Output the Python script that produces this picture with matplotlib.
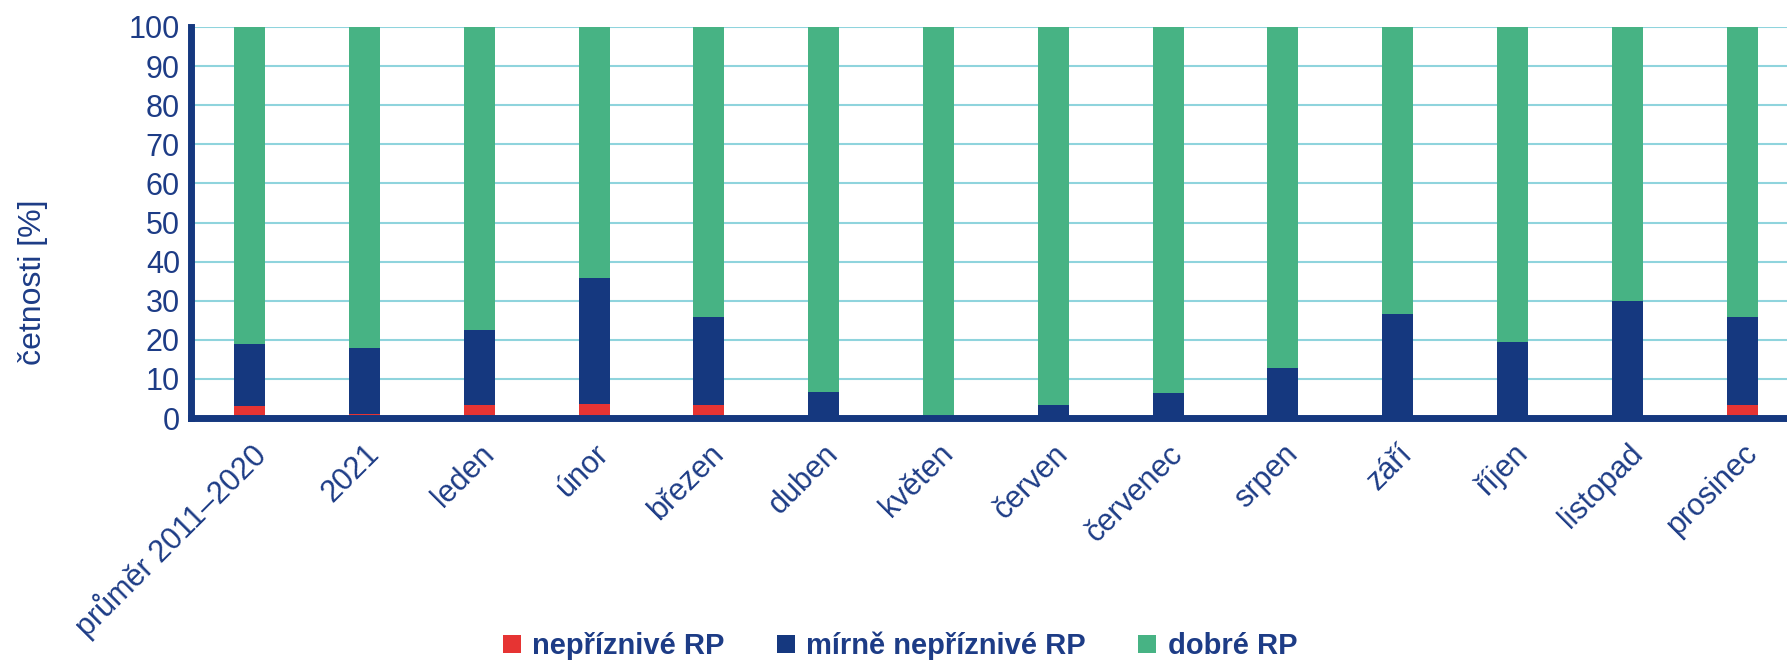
import matplotlib
matplotlib.use("Agg")
import matplotlib.pyplot as plt
import numpy as np

plt.rcParams['font.family'] = ['Liberation Sans', 'DejaVu Sans']

categories = ["průměr 2011–2020", "2021", "leden", "únor", "březen", "duben",
              "květen", "červen", "červenec", "srpen", "září", "říjen",
              "listopad", "prosinec"]
neprizni = [3.0, 1.1, 3.2, 3.6, 3.2, 0, 0, 0, 0, 0, 0, 0, 0, 3.2]
mirne = [16.0, 16.7, 19.4, 32.1, 22.6, 6.7, 0, 3.3, 6.5, 12.9, 26.7, 19.4, 30.0, 22.6]
dobre = [100 - a - b for a, b in zip(neprizni, mirne)]

c_red = "#e63433"
c_blue = "#15387f"
c_green = "#47b384"
c_text = "#1d3c86"
c_grid = "#8fd4dd"

fig = plt.figure(figsize=(17.87, 6.65), dpi=100)
ax = fig.add_axes([191/1787, 1 - 418/665, 1 - 191/1787, (418 - 27)/665])

x = np.arange(len(categories))
w = 0.27
ax.bar(x, neprizni, w, color=c_red, label="nepříznivé RP", zorder=3)
ax.bar(x, mirne, w, bottom=neprizni, color=c_blue, label="mírně nepříznivé RP", zorder=3)
bot = [a + b for a, b in zip(neprizni, mirne)]
ax.bar(x, dobre, w, bottom=bot, color=c_green, label="dobré RP", zorder=3)

ax.set_ylim(0, 100)
ax.set_xlim(-0.51, 13.39)
ax.set_yticks(range(0, 101, 10))
ax.yaxis.grid(True, color=c_grid, linewidth=1.5, zorder=0)
ax.set_axisbelow(True)

for s in ["top", "right"]:
    ax.spines[s].set_visible(False)
for s in ["left", "bottom"]:
    ax.spines[s].set_color(c_blue)
    ax.spines[s].set_linewidth(5)
    ax.spines[s].set_zorder(4)

ax.tick_params(axis="both", length=0, labelsize=22, labelcolor=c_text, pad=8)
ax.set_xticks(x)
ax.set_xticklabels(categories, rotation=45, ha="right", rotation_mode="anchor")
ax.tick_params(axis="x", pad=15)
ax.set_ylabel("četnosti [%]", fontsize=23, color=c_text)
ax.yaxis.set_label_coords(-0.0896, 0.348)

ax.legend(loc="center", bbox_to_anchor=(900/1787, 1 - 646/665), bbox_transform=fig.transFigure,
          ncol=3, frameon=False, handlelength=0.6, handleheight=0.6, handletextpad=0.4,
          columnspacing=1.8, prop={"size": 21, "weight": "bold"}, labelcolor=c_text)

fig.savefig("out.png", dpi=100)
